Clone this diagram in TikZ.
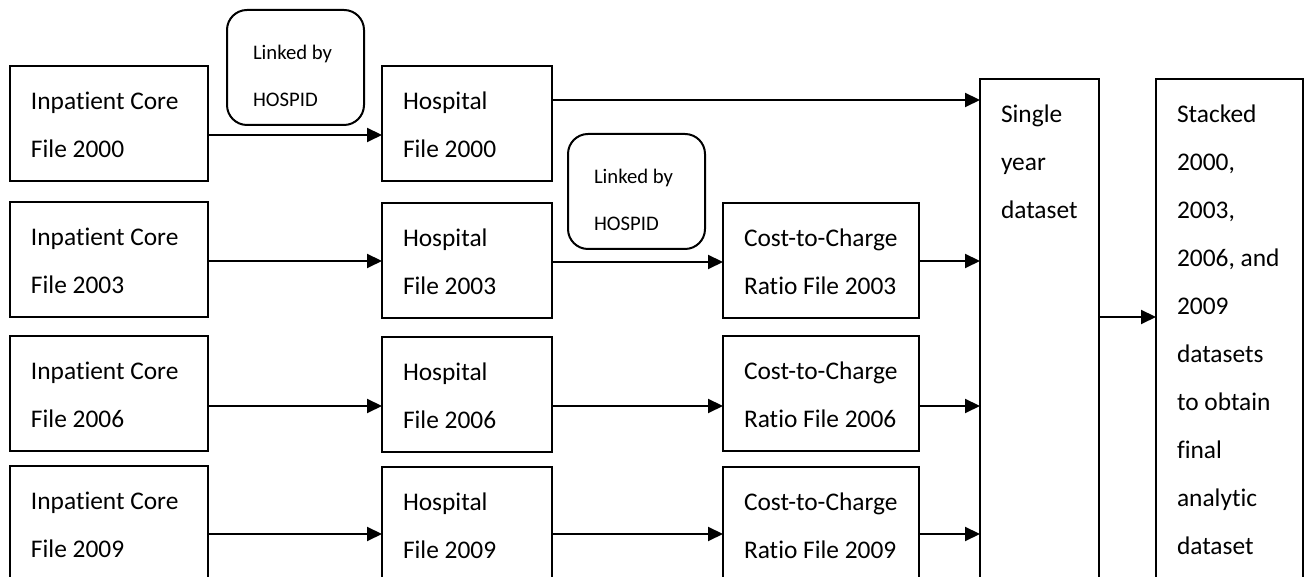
\documentclass[tikz,border=0pt]{standalone}
\usepackage{fontspec}
\setmainfont[Ligatures=NoCommon]{Carlito}
\usepackage{xcolor}
\usepackage{tikz}
\usetikzlibrary{arrows.meta}
\definecolor{boxLine}{HTML}{000000}
\tikzset{
  filebox/.style={rectangle, draw=boxLine, line width=1pt, outer sep=0pt, anchor=north west, align=flush left, font=\fontsize{12.7}{24}\selectfont, text width=#1, inner xsep=10.5pt, inner ysep=5.2pt, text height=16.8pt, text depth=30.3pt},
  tallbox/.style={filebox=#1, text depth=233.3pt},
  linkbox/.style={rectangle, rounded corners=10pt, draw=boxLine, line width=1pt, outer sep=0pt, anchor=north west, align=flush left, font=\fontsize{10.35}{23.25}\selectfont, text width=42.5pt, inner xsep=13pt, inner ysep=8.7pt, text height=16.3pt, text depth=23.8pt},
  flowarrow/.style={-{Triangle[length=7.5pt,width=7pt]}, line width=1pt, draw=boxLine},
}
\begin{document}
\begin{tikzpicture}[x=0.5pt,y=0.5pt]
  \path[use as bounding box] (0,0) rectangle (1310,577);
  \clip (0,0) rectangle (1310,577);

  \node[filebox=78pt] (core00) at (10,511) {Inpatient~Core\\File 2000};
  \node[filebox=78pt] (core03) at (10,375) {Inpatient~Core\\File 2003};
  \node[filebox=78pt] (core06) at (10,241) {Inpatient~Core\\File 2006};
  \node[filebox=78pt] (core09) at (10,111) {Inpatient~Core\\File 2009};

  \node[filebox=64pt] (hosp00) at (382,511) {Hospital\\File 2000};
  \node[filebox=64pt] (hosp03) at (382,374) {Hospital\\File 2003};
  \node[filebox=64pt] (hosp06) at (382,240) {Hospital\\File 2006};
  \node[filebox=64pt] (hosp09) at (382,110) {Hospital\\File 2009};

  \node[filebox=77pt] (ccr03) at (723,374) {Cost-to-Charge\\Ratio~File~2003};
  \node[filebox=77pt] (ccr06) at (723,241) {Cost-to-Charge\\Ratio~File~2006};
  \node[filebox=77pt] (ccr09) at (723,110) {Cost-to-Charge\\Ratio~File~2009};

  \node[tallbox=38.5pt] (single) at (980,498) {Single\\year\\dataset};
  \node[tallbox=52.5pt] (stacked) at (1156,498) {Stacked\\2000,\\2003,\\2006,~and\\2009\\datasets\\to~obtain\\final\\analytic\\dataset};

  \node[linkbox] (link00) at (227,567) {Linked by\\HOSPID};
  \node[linkbox] (link03) at (568,443) {Linked by\\HOSPID};

  \foreach \a/\b/\s in {core00/hosp00/-5.75pt, core03/hosp03/-0.75pt, core06/hosp06/-6.25pt, core09/hosp09/-5.25pt,
                        hosp03/ccr03/-0.75pt, hosp06/ccr06/-5.75pt, hosp09/ccr09/-4.75pt,
                        hosp00/single/11.75pt, ccr03/single/-0.25pt, ccr06/single/-6.25pt, ccr09/single/-4.75pt,
                        single/stacked/11.25pt}
    { \draw[flowarrow] ([yshift=\s]\a.east) -- ([yshift=\s]\a.east -| \b.west); }
\end{tikzpicture}
\end{document}
